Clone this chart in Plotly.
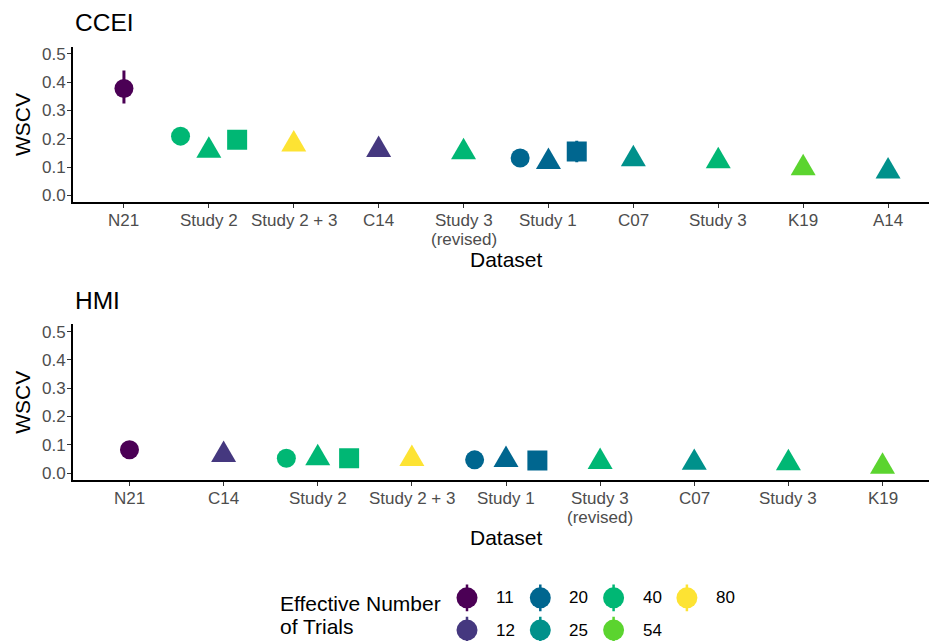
import math
import plotly.graph_objects as go

# ---------------------------------------------------------------- data ----
trial_levels = [11, 12, 20, 25, 40, 54, 80]
trial_colours = ["#4B0055", "#45387F", "#00668F", "#00918B", "#00B774",
                 "#5BD42F", "#FDE333"]

ccei_order = ["N21", "Study 2", "Study 2 + 3", "C14", "Study 3\n(revised)",
              "Study 1", "C07", "Study 3", "K19", "A14"]
ccei_dataset = ["N21", "Study 2", "Study 2", "Study 2", "Study 2 + 3", "C14",
                "Study 3\n(revised)", "Study 1", "Study 1", "Study 1", "C07",
                "Study 3", "K19", "A14"]
ccei_shape = ["circle", "circle", "triangle", "square", "triangle", "triangle",
              "triangle", "circle", "triangle", "square", "triangle",
              "triangle", "triangle", "triangle"]
ccei_wscv = [0.377, 0.209, 0.158, 0.196, 0.180, 0.161, 0.153, 0.132, 0.118,
             0.155, 0.128, 0.121, 0.096, 0.085]
ccei_lo = [0.324, 0.209, 0.158, 0.196, 0.180, 0.161, 0.153, 0.132, 0.118,
           0.117, 0.128, 0.121, 0.096, 0.085]
ccei_hi = [0.441, 0.209, 0.158, 0.196, 0.180, 0.161, 0.153, 0.132, 0.118,
           0.193, 0.128, 0.121, 0.096, 0.085]
ccei_trials = [11, 40, 40, 40, 80, 12, 40, 20, 20, 20, 25, 40, 54, 25]

hmi_order = ["N21", "C14", "Study 2", "Study 2 + 3", "Study 1",
             "Study 3\n(revised)", "C07", "Study 3", "K19"]
hmi_dataset = ["N21", "C14", "Study 2", "Study 2", "Study 2", "Study 2 + 3",
               "Study 1", "Study 1", "Study 1", "Study 3\n(revised)", "C07",
               "Study 3", "K19"]
hmi_shape = ["circle", "triangle", "circle", "triangle", "square", "triangle",
             "circle", "triangle", "square", "triangle", "triangle",
             "triangle", "triangle"]
hmi_wscv = [0.083, 0.065, 0.053, 0.053, 0.053, 0.051, 0.047, 0.047, 0.045,
            0.040, 0.037, 0.036, 0.023]
hmi_lo = list(hmi_wscv)
hmi_hi = list(hmi_wscv)
hmi_trials = [11, 12, 40, 40, 40, 80, 20, 20, 20, 40, 25, 40, 54]

y_ticks = [0.0, 0.1, 0.2, 0.3, 0.4, 0.5]

trial_colour = dict(zip(trial_levels, trial_colours))

# -------------------------------------------------------------- layout ----
FIG_W, FIG_H = 929, 644
PLOT_L, PLOT_R = 73, 929
PANEL_FULL_W = 866          # panel width before the right edge is trimmed
Y_RANGE = [-0.025, 0.525]
FONT = "Liberation Sans, Arial, sans-serif"
TICK_GREY = "#4D4D4D"

CIRCLE_D = 19
SQUARE_D = 20
TRI_SIDE = 25
TICK_LINE_Y = 220.5         # first line of the category labels
TICK_LINE_GAP = 19          # spacing of two-line category labels


def paper_x(px):
    return (px - PLOT_L) / (PLOT_R - PLOT_L)


def paper_y(py):
    return 1 - py / FIG_H


def label(text, px, py, size, **kw):
    d = dict(text=text, x=paper_x(px), y=paper_y(py), xref="paper",
             yref="paper", xanchor="center", yanchor="middle",
             showarrow=False, font=dict(family=FONT, size=size, color="black"))
    d.update(kw)
    return d


def dodge(datasets, shapes, order):
    shape_rank = {"circle": 0, "triangle": 1, "square": 2}
    xs = []
    for d, s in zip(datasets, shapes):
        present = sorted({shape_rank[s2] for d2, s2 in zip(datasets, shapes) if d2 == d})
        n = len(present)
        k = present.index(shape_rank[s])
        xs.append(order.index(d) + (k + 0.5) / n - 0.5)
    return xs


fig = go.Figure()

panels = [
    dict(name="CCEI", top=45, bottom=202, order=ccei_order, ds=ccei_dataset,
         shape=ccei_shape, val=ccei_wscv, lo=ccei_lo, hi=ccei_hi,
         trials=ccei_trials),
    dict(name="HMI", top=325, bottom=482, order=hmi_order, ds=hmi_dataset,
         shape=hmi_shape, val=hmi_wscv, lo=hmi_lo, hi=hmi_hi,
         trials=hmi_trials),
]

annotations = []
for p_i, p in enumerate(panels):
    ax = "" if p_i == 0 else str(p_i + 1)
    xref, yref = "x" + ax, "y" + ax
    n = len(p["order"])
    span = n - 1 + 1.2
    x_range = [-0.6, -0.6 + span * (PLOT_R - PLOT_L) / PANEL_FULL_W]
    px_per_x = PANEL_FULL_W / span
    px_per_y = (p["bottom"] - p["top"]) / (Y_RANGE[1] - Y_RANGE[0])

    xs = dodge(p["ds"], p["shape"], p["order"])

    # intervals first so the points sit on top
    for x, lo, hi, t in zip(xs, p["lo"], p["hi"], p["trials"]):
        if hi - lo > 0:
            fig.add_trace(go.Scatter(
                x=[x, x], y=[lo, hi], mode="lines", xaxis=xref, yaxis=yref,
                line=dict(color=trial_colour[t], width=3), showlegend=False,
                hoverinfo="skip"))

    for x, v, s, t in zip(xs, p["val"], p["shape"], p["trials"]):
        col = trial_colour[t]
        if s == "triangle":
            hw = TRI_SIDE / 2 / px_per_x
            h = TRI_SIDE * math.sqrt(3) / 2
            top = v + (2 * h / 3) / px_per_y
            bot = v - (h / 3) / px_per_y
            fig.add_trace(go.Scatter(
                x=[x - hw, x + hw, x, x - hw], y=[bot, bot, top, bot],
                mode="lines", fill="toself", fillcolor=col,
                line=dict(width=0, color=col), xaxis=xref, yaxis=yref,
                showlegend=False, hoverinfo="skip"))
        else:
            fig.add_trace(go.Scatter(
                x=[x], y=[v], mode="markers", xaxis=xref, yaxis=yref,
                marker=dict(symbol=s, color=col,
                            size=CIRCLE_D if s == "circle" else SQUARE_D,
                            line=dict(width=0)),
                showlegend=False, hoverinfo="skip"))

    axis_common = dict(showline=True, linecolor="black", linewidth=2,
                       ticks="outside", ticklen=4, tickwidth=1.3,
                       tickcolor="#333333", showgrid=False, zeroline=False,
                       tickfont=dict(family=FONT, size=17, color=TICK_GREY))
    fig.update_layout(**{
        "xaxis" + ax: dict(domain=[0, 1], anchor=yref, range=x_range,
                           tickvals=list(range(n)), showticklabels=False,
                           **axis_common),
        "yaxis" + ax: dict(domain=[paper_y(p["bottom"]), paper_y(p["top"])],
                           anchor=xref, range=Y_RANGE, tickvals=y_ticks,
                           ticktext=["%.1f" % t for t in y_ticks],
                           ticklabelstandoff=-2,
                           **axis_common),
    })

    off = 0 if p_i == 0 else 280
    # category labels under the x axis (two-line names keep a tight leading)
    for ci, cat in enumerate(p["order"]):
        for li, line in enumerate(cat.split("\n")):
            annotations.append(dict(
                text=line, x=ci, xref=xref,
                y=paper_y(TICK_LINE_Y + off + li * TICK_LINE_GAP),
                yref="paper", xanchor="center", yanchor="middle",
                showarrow=False,
                font=dict(family=FONT, size=17, color=TICK_GREY)))
    annotations += [
        label(p["name"], 73, 21 + off, 24.5, xanchor="left"),
        label("WSCV", 22.5, 123.5 + off, 21, textangle=-90),
        label("Dataset", 506, 259.5 + off, 21),
    ]

# ------------------------------------------------------------- legend ----
LEG_TOP = 570
fig.update_layout(
    xaxis3=dict(domain=[0, 1], range=[PLOT_L, PLOT_R], visible=False,
                anchor="y3"),
    yaxis3=dict(domain=[0, paper_y(LEG_TOP)], range=[FIG_H, LEG_TOP],
                visible=False, anchor="x3"),
)
key_x0, key_dx = 467, 73.3
key_y0, key_dy = 600.5, 32.5
for i, lvl in enumerate(trial_levels):
    kx = key_x0 + key_dx * (i // 2)
    ky = key_y0 + key_dy * (i % 2)
    col = trial_colour[lvl]
    fig.add_trace(go.Scatter(
        x=[kx, kx], y=[ky - 13.5, ky + 13.5], mode="lines", xaxis="x3",
        yaxis="y3", line=dict(color=col, width=2.5), showlegend=False,
        hoverinfo="skip", cliponaxis=False))
    fig.add_trace(go.Scatter(
        x=[kx], y=[ky], mode="markers", xaxis="x3", yaxis="y3",
        marker=dict(symbol="circle", size=21, color=col, line=dict(width=0)),
        showlegend=False, hoverinfo="skip", cliponaxis=False))
    annotations.append(dict(
        text=str(lvl), x=kx + 27, y=ky, xref="x3", yref="y3",
        xanchor="left", yanchor="middle", showarrow=False,
        font=dict(family=FONT, size=17, color="black")))

annotations += [
    label("Effective Number", 278, 606, 21, xanchor="left"),
    label("of Trials", 278, 629, 21, xanchor="left"),
]

fig.update_layout(
    width=FIG_W, height=FIG_H,
    margin=dict(l=PLOT_L, r=FIG_W - PLOT_R, t=0, b=0, pad=0),
    plot_bgcolor="white", paper_bgcolor="white",
    font=dict(family=FONT),
    annotations=annotations,
    showlegend=False,
)

fig.write_html("out.html")
